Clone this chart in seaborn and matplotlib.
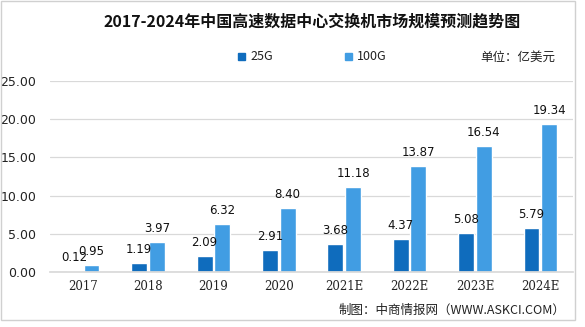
import matplotlib
matplotlib.use("Agg")
import matplotlib.pyplot as plt
import seaborn as sns
import pandas as pd
from matplotlib.patches import Rectangle

years = ["2017", "2018", "2019", "2020", "2021E", "2022E", "2023E", "2024E"]
v25 = [0.12, 1.19, 2.09, 2.91, 3.68, 4.37, 5.08, 5.79]
v100 = [0.95, 3.97, 6.32, 8.40, 11.18, 13.87, 16.54, 19.34]
series = ["25G", "100G"]
yticks = [0, 5, 10, 15, 20, 25]

df = pd.DataFrame({
    "year": years * 2,
    "value": v25 + v100,
    "series": [series[0]] * len(years) + [series[1]] * len(years),
})

sns.set_theme(style="white")
plt.rcParams["font.family"] = ["Noto Sans CJK SC", "DejaVu Sans"]

fig = plt.figure(figsize=(5.85, 3.27), dpi=100)
ax = fig.add_axes([50 / 585, 1 - 272 / 327, (573 - 50) / 585, (272 - 81) / 327])

colors = ["#0f6cbd", "#419de3"]
sns.barplot(data=df, x="year", y="value", hue="series", palette=colors,
            width=0.54, gap=0.1, ax=ax, legend=False, saturation=1)

ax.set_ylim(0, 25)
ax.set_yticks(yticks)
ax.set_yticklabels([f"{t:.2f}" for t in yticks], fontsize=9, color="#222222",
                   family="DejaVu Sans")
ax.tick_params(axis="x", labelsize=8.5, colors="#222222", length=0, pad=6)
ax.tick_params(axis="y", length=0, pad=10)
for lab in ax.get_xticklabels():
    lab.set_family("DejaVu Serif")
ax.set_xlabel("")
ax.set_ylabel("")
ax.grid(axis="y", color="#d9d9d9", linewidth=0.9)
ax.set_axisbelow(True)
for s in ["left", "right", "top"]:
    ax.spines[s].set_visible(False)
ax.spines["bottom"].set_color("#d9d9d9")

for cont in ax.containers:
    ax.bar_label(cont, labels=[f"{v:.2f}" for v in cont.datavalues],
                 fontsize=8.5, padding=5, color="#111111", family="DejaVu Sans")

fig.text(312 / 585, 1 - 22 / 327, "2017-2024年中国高速数据中心交换机市场规模预测趋势图",
         ha="center", va="center", fontsize=11.5, fontweight="bold", color="#111111")

# legend
for x0, lab, c in [(238, series[0], colors[0]), (345, series[1], colors[1])]:
    fig.patches.append(Rectangle((x0 / 585, 1 - 60 / 327), 7 / 585, 7 / 327,
                                 transform=fig.transFigure, color=c))
    fig.text((x0 + 12) / 585, 1 - 56 / 327, lab, ha="left", va="center",
             fontsize=9, color="#222222")

fig.text(555 / 585, 1 - 57 / 327, "单位：亿美元", ha="right", va="center",
         fontsize=9, color="#222222")
fig.text(565 / 585, 1 - 310 / 327, "制图：中商情报网（WWW.ASKCI.COM）", ha="right",
         va="center", fontsize=9, color="#222222")

fig.patches.append(Rectangle((1 / 585, 1 - 320 / 327), 574 / 585, 319 / 327,
                             transform=fig.transFigure, fill=False,
                             edgecolor="#d0d0d0", linewidth=1))

fig.savefig("out.png", dpi=100)
